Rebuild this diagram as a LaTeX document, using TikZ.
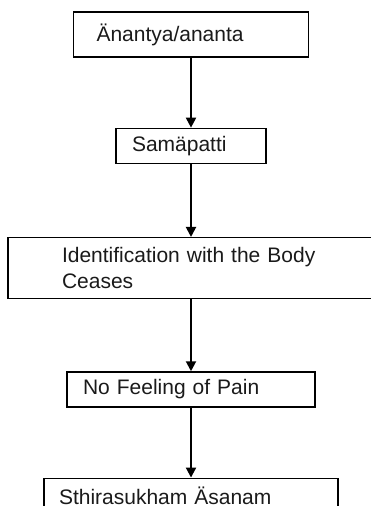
\documentclass[tikz,border=0pt]{standalone}
\usepackage{fontspec}
\setmainfont{Liberation Sans}
\usepackage{tikz}
\usetikzlibrary{arrows.meta,positioning}
\definecolor{ink}{HTML}{1A1A1A}

\begin{document}
\begin{tikzpicture}[
  x=1pt,y=-1pt,
  font=\fontsize{21}{26}\selectfont,
  stage/.style={draw=black,line width=1.3pt,text=ink,align=left,inner ysep=2pt,
                minimum height=35pt},
  arr/.style={-{Triangle[length=10pt,width=10pt]},line width=2pt,draw=black}]
\useasboundingbox (0,0) rectangle (371,506);

\node[stage,minimum height=45pt,text width=189pt,inner xsep=23pt] (anantya) at (191,34.5)
      {Änantya/ananta};
\node[stage,text width=118pt,inner xsep=16pt,below=70pt of anantya] (samapatti)
      {Samäpatti};
\node[stage,minimum height=61pt,text width=258pt,inner xsep=54pt,below=73pt of samapatti] (body)
      {Identification with the Body\\Ceases};
\node[stage,text width=216pt,inner xsep=16pt,below=72pt of body] (pain)
      {No Feeling of Pain};
\node[stage,text width=264pt,inner xsep=15pt,below=70pt of pain] (asanam)
      {Sthirasukham Äsanam};

\draw[arr] (anantya) -- (samapatti);
\draw[arr] (samapatti) -- (body);
\draw[arr] (body) -- (pain);
\draw[arr] (pain) -- (asanam);
\end{tikzpicture}
\end{document}
